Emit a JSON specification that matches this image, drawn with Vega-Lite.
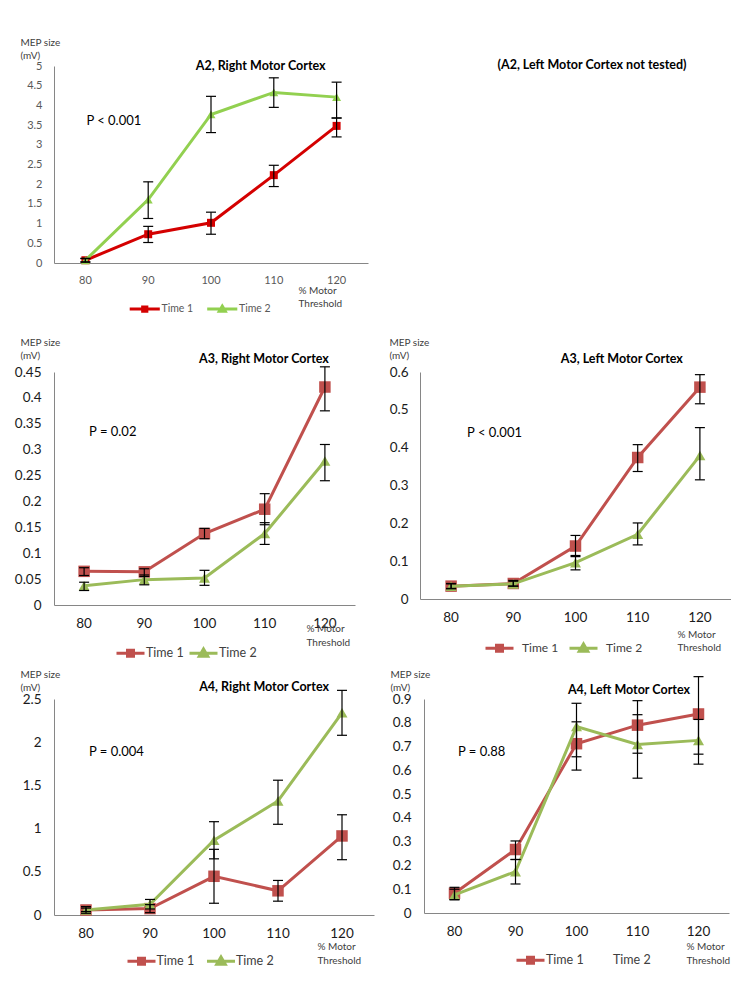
{
  "$schema": "https://vega.github.io/schema/vega-lite/v6.json",
  "padding": {"left": 14, "top": 37, "right": 0, "bottom": 10},
  "background": "white",
  "data": {"values": [
    {"p":"A2R","s":"Time 1","x":"80","m":0.07,"lo":0.02,"hi":0.12},
    {"p":"A2R","s":"Time 1","x":"90","m":0.73,"lo":0.52,"hi":0.93},
    {"p":"A2R","s":"Time 1","x":"100","m":1.02,"lo":0.73,"hi":1.29},
    {"p":"A2R","s":"Time 1","x":"110","m":2.23,"lo":1.94,"hi":2.48},
    {"p":"A2R","s":"Time 1","x":"120","m":3.48,"lo":3.2,"hi":3.68},
    {"p":"A2R","s":"Time 2","x":"80","m":0.07,"lo":0.03,"hi":0.11},
    {"p":"A2R","s":"Time 2","x":"90","m":1.61,"lo":1.13,"hi":2.06},
    {"p":"A2R","s":"Time 2","x":"100","m":3.77,"lo":3.31,"hi":4.23},
    {"p":"A2R","s":"Time 2","x":"110","m":4.33,"lo":3.95,"hi":4.7},
    {"p":"A2R","s":"Time 2","x":"120","m":4.21,"lo":3.68,"hi":4.59},
    {"p":"A3R","s":"Time 1","x":"80","m":0.065,"lo":0.057,"hi":0.072},
    {"p":"A3R","s":"Time 1","x":"90","m":0.064,"lo":0.055,"hi":0.07},
    {"p":"A3R","s":"Time 1","x":"100","m":0.138,"lo":0.128,"hi":0.148},
    {"p":"A3R","s":"Time 1","x":"110","m":0.185,"lo":0.155,"hi":0.215},
    {"p":"A3R","s":"Time 1","x":"120","m":0.421,"lo":0.375,"hi":0.46},
    {"p":"A3R","s":"Time 2","x":"80","m":0.037,"lo":0.028,"hi":0.044},
    {"p":"A3R","s":"Time 2","x":"90","m":0.049,"lo":0.039,"hi":0.058},
    {"p":"A3R","s":"Time 2","x":"100","m":0.052,"lo":0.038,"hi":0.067},
    {"p":"A3R","s":"Time 2","x":"110","m":0.138,"lo":0.117,"hi":0.159},
    {"p":"A3R","s":"Time 2","x":"120","m":0.278,"lo":0.24,"hi":0.31},
    {"p":"A3L","s":"Time 1","x":"80","m":0.034,"lo":0.027,"hi":0.041},
    {"p":"A3L","s":"Time 1","x":"90","m":0.041,"lo":0.034,"hi":0.049},
    {"p":"A3L","s":"Time 1","x":"100","m":0.14,"lo":0.112,"hi":0.168},
    {"p":"A3L","s":"Time 1","x":"110","m":0.374,"lo":0.337,"hi":0.408},
    {"p":"A3L","s":"Time 1","x":"120","m":0.56,"lo":0.516,"hi":0.593},
    {"p":"A3L","s":"Time 2","x":"80","m":0.034,"lo":0.028,"hi":0.04},
    {"p":"A3L","s":"Time 2","x":"90","m":0.04,"lo":0.034,"hi":0.047},
    {"p":"A3L","s":"Time 2","x":"100","m":0.096,"lo":0.077,"hi":0.115},
    {"p":"A3L","s":"Time 2","x":"110","m":0.171,"lo":0.143,"hi":0.201},
    {"p":"A3L","s":"Time 2","x":"120","m":0.379,"lo":0.315,"hi":0.453},
    {"p":"A4R","s":"Time 1","x":"80","m":0.058,"lo":0.02,"hi":0.097},
    {"p":"A4R","s":"Time 1","x":"90","m":0.074,"lo":0.027,"hi":0.12},
    {"p":"A4R","s":"Time 1","x":"100","m":0.448,"lo":0.136,"hi":0.76},
    {"p":"A4R","s":"Time 1","x":"110","m":0.28,"lo":0.16,"hi":0.4},
    {"p":"A4R","s":"Time 1","x":"120","m":0.915,"lo":0.64,"hi":1.16},
    {"p":"A4R","s":"Time 2","x":"80","m":0.058,"lo":0.04,"hi":0.08},
    {"p":"A4R","s":"Time 2","x":"90","m":0.125,"lo":0.07,"hi":0.18},
    {"p":"A4R","s":"Time 2","x":"100","m":0.865,"lo":0.65,"hi":1.08},
    {"p":"A4R","s":"Time 2","x":"110","m":1.32,"lo":1.05,"hi":1.56},
    {"p":"A4R","s":"Time 2","x":"120","m":2.34,"lo":2.08,"hi":2.6},
    {"p":"A4L","s":"Time 1","x":"80","m":0.083,"lo":0.056,"hi":0.108},
    {"p":"A4L","s":"Time 1","x":"90","m":0.267,"lo":0.225,"hi":0.303},
    {"p":"A4L","s":"Time 1","x":"100","m":0.712,"lo":0.601,"hi":0.804},
    {"p":"A4L","s":"Time 1","x":"110","m":0.79,"lo":0.672,"hi":0.893},
    {"p":"A4L","s":"Time 1","x":"120","m":0.837,"lo":0.668,"hi":0.994},
    {"p":"A4L","s":"Time 2","x":"80","m":0.076,"lo":0.056,"hi":0.1},
    {"p":"A4L","s":"Time 2","x":"90","m":0.174,"lo":0.122,"hi":0.225},
    {"p":"A4L","s":"Time 2","x":"100","m":0.784,"lo":0.657,"hi":0.882},
    {"p":"A4L","s":"Time 2","x":"110","m":0.709,"lo":0.567,"hi":0.834},
    {"p":"A4L","s":"Time 2","x":"120","m":0.726,"lo":0.626,"hi":0.814}
  ]},
  "config": {
    "view": {"stroke": null},
    "font": "Lato",
    "axis": {"grid": false, "ticks": false, "domainColor": "#868686", "domainWidth": 1, "labelFont": "Lato", "titleFont": "Lato", "labelAngle": 0, "labelFlush": false, "labelOverlap": false},
    "legend": {"labelFont": "Lato", "symbolStrokeWidth": 3, "symbolOpacity": 1},
    "text": {"font": "Lato"}
  },
  "spacing": 6,
  "resolve": {"scale": {"x": "independent", "y": "independent", "color": "independent", "shape": "independent"}, "legend": {"color": "independent", "shape": "independent"}},
  "vconcat": [
    {
      "bounds": "flush",
      "spacing": 53,
      "resolve": {"scale": {"x": "independent", "y": "independent", "color": "independent", "shape": "independent"}, "legend": {"color": "independent", "shape": "independent"}},
      "hconcat": [
        {
          "width": 314, "height": 197,
          "transform": [{"filter": "datum.p === 'A2R'"}],
          "encoding": {
            "x": {"field": "x", "type": "ordinal", "sort": ["80","90","100","110","120"], "scale": {"paddingInner": 0, "paddingOuter": 0},
                  "axis": {"labelFontSize": 11, "labelColor": "#595959", "labelPadding": 11, "title": ["% Motor", "Threshold"], "titleX": 244, "titleY": 22, "titleAlign": "left", "titleAnchor": "start", "titleBaseline": "top", "titleFontSize": 10, "titleFontWeight": "normal", "titleColor": "#404040", "titleLineHeight": 13.5}},
            "y": {"field": "m", "type": "quantitative", "scale": {"domain": [0, 5], "nice": false, "zero": true},
                  "axis": {"values": [0,0.5,1,1.5,2,2.5,3,3.5,4,4.5,5], "format": "~g", "labelFontSize": 11, "labelColor": "#595959", "labelPadding": 12, "title": ["MEP size", "(mV)"], "titleAngle": 0, "titleX": -34, "titleY": -29, "titleAlign": "left", "titleAnchor": "start", "titleBaseline": "top", "titleFontSize": 10, "titleFontWeight": "normal", "titleColor": "#404040", "titleLineHeight": 13}}
          },
          "layer": [
            {"transform": [{"filter": "datum.x === '80'"}],
             "mark": {"type": "point", "filled": false, "opacity": 0},
             "encoding": {
               "color": {"field": "s", "type": "nominal", "scale": {"domain": ["Time 1", "Time 2"], "range": ["#D40000", "#92D050"]},
                 "legend": {"orient": "none", "legendX": 85.5, "legendY": 237.5, "direction": "horizontal", "title": null, "symbolSize": 49, "labelOffset": 11.5, "columnPadding": 7.5, "labelFontSize": 10.5, "labelColor": "#595959"}},
               "shape": {"field": "s", "type": "nominal", "scale": {"domain": ["Time 1", "Time 2"], "range": ["M-4.3,0H4.3M-0.6,-0.6H0.6V0.6H-0.6ZM-0.2,-0.2H0.2V0.2H-0.2Z", "M-4.3,0H4.3M0,-0.85L0.85,0.6H-0.85ZM0,-0.3L0.3,0.25H-0.3Z"]},
                 "legend": {"orient": "none", "legendX": 85.5, "legendY": 237.5, "direction": "horizontal", "title": null, "symbolSize": 49, "labelOffset": 11.5, "columnPadding": 7.5, "labelFontSize": 10.5, "labelColor": "#595959"}}
             }},
            {"transform": [{"filter": "datum.s === 'Time 1'"}], "mark": {"type": "line", "strokeWidth": 3, "color": "#D40000"}, "encoding": {}},
            {"transform": [{"filter": "datum.s === 'Time 1'"}], "mark": {"type": "point", "filled": true, "opacity": 1, "shape": "square", "size": 64, "color": "#D40000"}},
            {"transform": [{"filter": "datum.s === 'Time 2'"}], "mark": {"type": "line", "strokeWidth": 3, "color": "#92D050"}, "encoding": {}},
            {"transform": [{"filter": "datum.s === 'Time 2'"}], "mark": {"type": "point", "filled": true, "opacity": 1, "shape": "triangle-up", "size": 81, "color": "#92D050"}},
            {"mark": {"type": "rule", "color": "black", "strokeWidth": 1.2},
             "encoding": {"y": {"field": "lo", "type": "quantitative"}, "y2": {"field": "hi"}}},
            {"mark": {"type": "tick", "color": "black", "size": 10, "thickness": 1.2, "opacity": 1},
             "encoding": {"y": {"field": "lo", "type": "quantitative"}}},
            {"mark": {"type": "tick", "color": "black", "size": 10, "thickness": 1.2, "opacity": 1},
             "encoding": {"y": {"field": "hi", "type": "quantitative"}}},
            {"transform": [{"filter": "datum.x === '80' && datum.s === 'Time 1'"}],
             "mark": {"type": "text", "fontWeight": "bold", "fontSize": 12.5, "align": "right", "baseline": "middle", "dx": -11, "color": "black"},
             "encoding": {"x": {"datum": "120"}, "y": {"datum": 5, "type": "quantitative"}, "text": {"value": "A2, Right Motor Cortex"}}},
            {"transform": [{"filter": "datum.x === '80' && datum.s === 'Time 1'"}],
             "mark": {"type": "text", "fontSize": 13, "align": "left", "baseline": "middle", "dx": 1, "color": "black"},
             "encoding": {"x": {"datum": "80"}, "y": {"datum": 3.6, "type": "quantitative"}, "text": {"value": "P < 0.001"}}}
          ]
        },
        {
          "width": 300, "height": 265,
          "title": {"text": "(A2, Left Motor Cortex not tested)", "anchor": "middle", "frame": "group", "dx": 21, "dy": 14, "offset": 3, "baseline": "middle", "fontSize": 12.5, "fontWeight": "bold", "font": "Lato", "color": "black"},
          "transform": [{"filter": "datum.p === 'none'"}],
          "mark": {"type": "text"},
          "encoding": {"text": {"value": ""}}
        }
      ]
    },
    {
      "bounds": "flush",
      "spacing": 65,
      "resolve": {"scale": {"x": "independent", "y": "independent", "color": "independent", "shape": "independent"}, "legend": {"color": "independent", "shape": "independent"}},
      "hconcat": [
        {
          "width": 301, "height": 233,
          "transform": [{"filter": "datum.p === 'A3R'"}],
          "encoding": {
            "x": {"field": "x", "type": "ordinal", "sort": ["80","90","100","110","120"], "scale": {"paddingInner": 0, "paddingOuter": 0},
                  "axis": {"labelFontSize": 13.5, "labelColor": "#1a1a1a", "labelPadding": 11, "title": ["% Motor", "Threshold"], "titleX": 252, "titleY": 18, "titleAlign": "left", "titleAnchor": "start", "titleBaseline": "top", "titleFontSize": 10, "titleFontWeight": "normal", "titleColor": "#404040", "titleLineHeight": 14}},
            "y": {"field": "m", "type": "quantitative", "scale": {"domain": [0, 0.45], "nice": false, "zero": true},
                  "axis": {"values": [0,0.05,0.1,0.15,0.2,0.25,0.3,0.35,0.4,0.45], "format": "~g", "labelFontSize": 13.5, "labelColor": "#1a1a1a", "labelPadding": 13, "title": ["MEP size", "(mV)"], "titleAngle": 0, "titleX": -34, "titleY": -35, "titleAlign": "left", "titleAnchor": "start", "titleBaseline": "top", "titleFontSize": 10, "titleFontWeight": "normal", "titleColor": "#404040", "titleLineHeight": 13}}
          },
          "layer": [
            {"transform": [{"filter": "datum.x === '80'"}],
             "mark": {"type": "point", "filled": false, "opacity": 0},
             "encoding": {
               "color": {"field": "s", "type": "nominal", "scale": {"domain": ["Time 1", "Time 2"], "range": ["#C0504D", "#9BBB59"]},
                 "legend": {"orient": "none", "legendX": 70, "legendY": 274.5, "direction": "horizontal", "title": null, "symbolSize": 100, "labelOffset": 9, "columnPadding": -1, "labelFontSize": 12.5, "labelColor": "#404040"}},
               "shape": {"field": "s", "type": "nominal", "scale": {"domain": ["Time 1", "Time 2"], "range": ["M-2.8,0H2.8M-0.6,-0.6H0.6V0.6H-0.6ZM-0.2,-0.2H0.2V0.2H-0.2Z", "M-2.8,0H2.8M0,-0.85L0.85,0.6H-0.85ZM0,-0.3L0.3,0.25H-0.3Z"]},
                 "legend": {"orient": "none", "legendX": 70, "legendY": 274.5, "direction": "horizontal", "title": null, "symbolSize": 100, "labelOffset": 9, "columnPadding": -1, "labelFontSize": 12.5, "labelColor": "#404040"}}
             }},
            {"transform": [{"filter": "datum.s === 'Time 1'"}], "mark": {"type": "line", "strokeWidth": 3, "color": "#C0504D"}, "encoding": {}},
            {"transform": [{"filter": "datum.s === 'Time 1'"}], "mark": {"type": "point", "filled": true, "opacity": 1, "shape": "square", "size": 132, "color": "#C0504D"}},
            {"transform": [{"filter": "datum.s === 'Time 2'"}], "mark": {"type": "line", "strokeWidth": 3, "color": "#9BBB59"}, "encoding": {}},
            {"transform": [{"filter": "datum.s === 'Time 2'"}], "mark": {"type": "point", "filled": true, "opacity": 1, "shape": "triangle-up", "size": 121, "color": "#9BBB59"}},
            {"mark": {"type": "rule", "color": "black", "strokeWidth": 1.2},
             "encoding": {"y": {"field": "lo", "type": "quantitative"}, "y2": {"field": "hi"}}},
            {"mark": {"type": "tick", "color": "black", "size": 10, "thickness": 1.2, "opacity": 1},
             "encoding": {"y": {"field": "lo", "type": "quantitative"}}},
            {"mark": {"type": "tick", "color": "black", "size": 10, "thickness": 1.2, "opacity": 1},
             "encoding": {"y": {"field": "hi", "type": "quantitative"}}},
            {"transform": [{"filter": "datum.x === '80' && datum.s === 'Time 1'"}],
             "mark": {"type": "text", "fontWeight": "bold", "fontSize": 12.5, "align": "right", "baseline": "middle", "dx": 4, "dy": -13, "color": "black"},
             "encoding": {"x": {"datum": "120"}, "y": {"datum": 0.45, "type": "quantitative"}, "text": {"value": "A3, Right Motor Cortex"}}},
            {"transform": [{"filter": "datum.x === '80' && datum.s === 'Time 1'"}],
             "mark": {"type": "text", "fontSize": 13, "align": "left", "baseline": "middle", "dx": 5, "color": "black"},
             "encoding": {"x": {"datum": "80"}, "y": {"datum": 0.334, "type": "quantitative"}, "text": {"value": "P = 0.02"}}}
          ]
        },
        {
          "width": 311, "height": 227,
          "transform": [{"filter": "datum.p === 'A3L'"}],
          "encoding": {
            "x": {"field": "x", "type": "ordinal", "sort": ["80","90","100","110","120"], "scale": {"paddingInner": 0, "paddingOuter": 0},
                  "axis": {"labelFontSize": 13.5, "labelColor": "#1a1a1a", "labelPadding": 11, "title": ["% Motor", "Threshold"], "titleX": 257, "titleY": 30, "titleAlign": "left", "titleAnchor": "start", "titleBaseline": "top", "titleFontSize": 10, "titleFontWeight": "normal", "titleColor": "#404040", "titleLineHeight": 13}},
            "y": {"field": "m", "type": "quantitative", "scale": {"domain": [0, 0.6], "nice": false, "zero": true},
                  "axis": {"values": [0,0.1,0.2,0.3,0.4,0.5,0.6], "format": "~g", "labelFontSize": 13.5, "labelColor": "#1a1a1a", "labelPadding": 12, "title": ["MEP size", "(mV)"], "titleAngle": 0, "titleX": -31, "titleY": -35, "titleAlign": "left", "titleAnchor": "start", "titleBaseline": "top", "titleFontSize": 10, "titleFontWeight": "normal", "titleColor": "#404040", "titleLineHeight": 13}}
          },
          "layer": [
            {"transform": [{"filter": "datum.x === '80'"}],
             "mark": {"type": "point", "filled": false, "opacity": 0},
             "encoding": {
               "color": {"field": "s", "type": "nominal", "scale": {"domain": ["Time 1", "Time 2"], "range": ["#C0504D", "#9BBB59"]},
                 "legend": {"orient": "none", "legendX": 73, "legendY": 269.5, "direction": "horizontal", "title": null, "symbolSize": 100, "labelOffset": 16, "columnPadding": 4, "labelFontSize": 12, "labelColor": "#404040"}},
               "shape": {"field": "s", "type": "nominal", "scale": {"domain": ["Time 1", "Time 2"], "range": ["M-2.8,0H2.8M-0.6,-0.6H0.6V0.6H-0.6ZM-0.2,-0.2H0.2V0.2H-0.2Z", "M-2.8,0H2.8M0,-0.85L0.85,0.6H-0.85ZM0,-0.3L0.3,0.25H-0.3Z"]},
                 "legend": {"orient": "none", "legendX": 73, "legendY": 269.5, "direction": "horizontal", "title": null, "symbolSize": 100, "labelOffset": 16, "columnPadding": 4, "labelFontSize": 12, "labelColor": "#404040"}}
             }},
            {"transform": [{"filter": "datum.s === 'Time 1'"}], "mark": {"type": "line", "strokeWidth": 3, "color": "#C0504D"}, "encoding": {}},
            {"transform": [{"filter": "datum.s === 'Time 1'"}], "mark": {"type": "point", "filled": true, "opacity": 1, "shape": "square", "size": 132, "color": "#C0504D"}},
            {"transform": [{"filter": "datum.s === 'Time 2'"}], "mark": {"type": "line", "strokeWidth": 3, "color": "#9BBB59"}, "encoding": {}},
            {"transform": [{"filter": "datum.s === 'Time 2'"}], "mark": {"type": "point", "filled": true, "opacity": 1, "shape": "triangle-up", "size": 121, "color": "#9BBB59"}},
            {"mark": {"type": "rule", "color": "black", "strokeWidth": 1.2},
             "encoding": {"y": {"field": "lo", "type": "quantitative"}, "y2": {"field": "hi"}}},
            {"mark": {"type": "tick", "color": "black", "size": 10, "thickness": 1.2, "opacity": 1},
             "encoding": {"y": {"field": "lo", "type": "quantitative"}}},
            {"mark": {"type": "tick", "color": "black", "size": 10, "thickness": 1.2, "opacity": 1},
             "encoding": {"y": {"field": "hi", "type": "quantitative"}}},
            {"transform": [{"filter": "datum.x === '80' && datum.s === 'Time 1'"}],
             "mark": {"type": "text", "fontWeight": "bold", "fontSize": 12.5, "align": "right", "baseline": "middle", "dx": -17, "dy": -13, "color": "black"},
             "encoding": {"x": {"datum": "120"}, "y": {"datum": 0.6, "type": "quantitative"}, "text": {"value": "A3, Left Motor Cortex"}}},
            {"transform": [{"filter": "datum.x === '80' && datum.s === 'Time 1'"}],
             "mark": {"type": "text", "fontSize": 13, "align": "left", "baseline": "middle", "dx": 16, "color": "black"},
             "encoding": {"x": {"datum": "80"}, "y": {"datum": 0.439, "type": "quantitative"}, "text": {"value": "P < 0.001"}}}
          ]
        }
      ]
    },
    {
      "bounds": "flush",
      "spacing": 50,
      "resolve": {"scale": {"x": "independent", "y": "independent", "color": "independent", "shape": "independent"}, "legend": {"color": "independent", "shape": "independent"}},
      "hconcat": [
        {
          "width": 320, "height": 216,
          "transform": [{"filter": "datum.p === 'A4R'"}],
          "encoding": {
            "x": {"field": "x", "type": "ordinal", "sort": ["80","90","100","110","120"], "scale": {"paddingInner": 0, "paddingOuter": 0},
                  "axis": {"labelFontSize": 13.5, "labelColor": "#1a1a1a", "labelPadding": 11, "title": ["% Motor", "Threshold"], "titleX": 263, "titleY": 26, "titleAlign": "left", "titleAnchor": "start", "titleBaseline": "top", "titleFontSize": 10, "titleFontWeight": "normal", "titleColor": "#404040", "titleLineHeight": 14}},
            "y": {"field": "m", "type": "quantitative", "scale": {"domain": [0, 2.5], "nice": false, "zero": true},
                  "axis": {"values": [0,0.5,1,1.5,2,2.5], "format": "~g", "labelFontSize": 13.5, "labelColor": "#1a1a1a", "labelPadding": 13, "title": ["MEP size", "(mV)"], "titleAngle": 0, "titleX": -34, "titleY": -30, "titleAlign": "left", "titleAnchor": "start", "titleBaseline": "top", "titleFontSize": 10, "titleFontWeight": "normal", "titleColor": "#404040", "titleLineHeight": 13}}
          },
          "layer": [
            {"transform": [{"filter": "datum.x === '80'"}],
             "mark": {"type": "point", "filled": false, "opacity": 0},
             "encoding": {
               "color": {"field": "s", "type": "nominal", "scale": {"domain": ["Time 1", "Time 2"], "range": ["#C0504D", "#9BBB59"]},
                 "legend": {"orient": "none", "legendX": 81, "legendY": 255.5, "direction": "horizontal", "title": null, "symbolSize": 100, "labelOffset": 8.5, "columnPadding": 5.5, "labelFontSize": 12.5, "labelColor": "#404040"}},
               "shape": {"field": "s", "type": "nominal", "scale": {"domain": ["Time 1", "Time 2"], "range": ["M-2.8,0H2.8M-0.6,-0.6H0.6V0.6H-0.6ZM-0.2,-0.2H0.2V0.2H-0.2Z", "M-2.8,0H2.8M0,-0.85L0.85,0.6H-0.85ZM0,-0.3L0.3,0.25H-0.3Z"]},
                 "legend": {"orient": "none", "legendX": 81, "legendY": 255.5, "direction": "horizontal", "title": null, "symbolSize": 100, "labelOffset": 8.5, "columnPadding": 5.5, "labelFontSize": 12.5, "labelColor": "#404040"}}
             }},
            {"transform": [{"filter": "datum.s === 'Time 1'"}], "mark": {"type": "line", "strokeWidth": 3, "color": "#C0504D"}, "encoding": {}},
            {"transform": [{"filter": "datum.s === 'Time 1'"}], "mark": {"type": "point", "filled": true, "opacity": 1, "shape": "square", "size": 132, "color": "#C0504D"}},
            {"transform": [{"filter": "datum.s === 'Time 2'"}], "mark": {"type": "line", "strokeWidth": 3, "color": "#9BBB59"}, "encoding": {}},
            {"transform": [{"filter": "datum.s === 'Time 2'"}], "mark": {"type": "point", "filled": true, "opacity": 1, "shape": "triangle-up", "size": 121, "color": "#9BBB59"}},
            {"mark": {"type": "rule", "color": "black", "strokeWidth": 1.2},
             "encoding": {"y": {"field": "lo", "type": "quantitative"}, "y2": {"field": "hi"}}},
            {"mark": {"type": "tick", "color": "black", "size": 10, "thickness": 1.2, "opacity": 1},
             "encoding": {"y": {"field": "lo", "type": "quantitative"}}},
            {"mark": {"type": "tick", "color": "black", "size": 10, "thickness": 1.2, "opacity": 1},
             "encoding": {"y": {"field": "hi", "type": "quantitative"}}},
            {"transform": [{"filter": "datum.x === '80' && datum.s === 'Time 1'"}],
             "mark": {"type": "text", "fontWeight": "bold", "fontSize": 12.5, "align": "right", "baseline": "middle", "dx": -13, "dy": -12, "color": "black"},
             "encoding": {"x": {"datum": "120"}, "y": {"datum": 2.5, "type": "quantitative"}, "text": {"value": "A4, Right Motor Cortex"}}},
            {"transform": [{"filter": "datum.x === '80' && datum.s === 'Time 1'"}],
             "mark": {"type": "text", "fontSize": 13, "align": "left", "baseline": "middle", "dx": 3, "color": "black"},
             "encoding": {"x": {"datum": "80"}, "y": {"datum": 1.887, "type": "quantitative"}, "text": {"value": "P = 0.004"}}}
          ]
        },
        {
          "width": 305, "height": 214,
          "transform": [{"filter": "datum.p === 'A4L'"}],
          "encoding": {
            "x": {"field": "x", "type": "ordinal", "sort": ["80","90","100","110","120"], "scale": {"paddingInner": 0, "paddingOuter": 0},
                  "axis": {"labelFontSize": 13.5, "labelColor": "#1a1a1a", "labelPadding": 11, "title": ["% Motor", "Threshold"], "titleX": 262, "titleY": 28, "titleAlign": "left", "titleAnchor": "start", "titleBaseline": "top", "titleFontSize": 10, "titleFontWeight": "normal", "titleColor": "#404040", "titleLineHeight": 14}},
            "y": {"field": "m", "type": "quantitative", "scale": {"domain": [0, 0.9], "nice": false, "zero": true},
                  "axis": {"values": [0,0.1,0.2,0.3,0.4,0.5,0.6,0.7,0.8,0.9], "format": "~g", "labelFontSize": 13.5, "labelColor": "#1a1a1a", "labelPadding": 13, "title": ["MEP size", "(mV)"], "titleAngle": 0, "titleX": -34, "titleY": -30, "titleAlign": "left", "titleAnchor": "start", "titleBaseline": "top", "titleFontSize": 10, "titleFontWeight": "normal", "titleColor": "#404040", "titleLineHeight": 13}}
          },
          "layer": [
            {"transform": [{"filter": "datum.x === '80'"}],
             "mark": {"type": "point", "filled": false, "opacity": 0},
             "encoding": {
               "color": {"field": "s", "type": "nominal", "scale": {"domain": ["Time 1", "Time 2"], "range": ["#C0504D", "transparent"]},
                 "legend": {"orient": "none", "legendX": 100, "legendY": 254.5, "direction": "horizontal", "title": null, "symbolSize": 100, "labelOffset": 9, "columnPadding": -7, "labelFontSize": 12.5, "labelColor": "#404040"}},
               "shape": {"field": "s", "type": "nominal", "scale": {"domain": ["Time 1", "Time 2"], "range": ["M-2.8,0H2.8M-0.6,-0.6H0.6V0.6H-0.6ZM-0.2,-0.2H0.2V0.2H-0.2Z", "M-2.8,0H2.8M0,-0.85L0.85,0.6H-0.85ZM0,-0.3L0.3,0.25H-0.3Z"]},
                 "legend": {"orient": "none", "legendX": 100, "legendY": 254.5, "direction": "horizontal", "title": null, "symbolSize": 100, "labelOffset": 9, "columnPadding": -7, "labelFontSize": 12.5, "labelColor": "#404040"}}
             }},
            {"transform": [{"filter": "datum.s === 'Time 1'"}], "mark": {"type": "line", "strokeWidth": 3, "color": "#C0504D"}, "encoding": {}},
            {"transform": [{"filter": "datum.s === 'Time 1'"}], "mark": {"type": "point", "filled": true, "opacity": 1, "shape": "square", "size": 132, "color": "#C0504D"}},
            {"transform": [{"filter": "datum.s === 'Time 2'"}], "mark": {"type": "line", "strokeWidth": 3, "color": "#9BBB59"}, "encoding": {}},
            {"transform": [{"filter": "datum.s === 'Time 2'"}], "mark": {"type": "point", "filled": true, "opacity": 1, "shape": "triangle-up", "size": 121, "color": "#9BBB59"}},
            {"mark": {"type": "rule", "color": "black", "strokeWidth": 1.2},
             "encoding": {"y": {"field": "lo", "type": "quantitative"}, "y2": {"field": "hi"}}},
            {"mark": {"type": "tick", "color": "black", "size": 10, "thickness": 1.2, "opacity": 1},
             "encoding": {"y": {"field": "lo", "type": "quantitative"}}},
            {"mark": {"type": "tick", "color": "black", "size": 10, "thickness": 1.2, "opacity": 1},
             "encoding": {"y": {"field": "hi", "type": "quantitative"}}},
            {"transform": [{"filter": "datum.x === '80' && datum.s === 'Time 1'"}],
             "mark": {"type": "text", "fontWeight": "bold", "fontSize": 12.5, "align": "right", "baseline": "middle", "dx": -8.5, "dy": -9, "color": "black"},
             "encoding": {"x": {"datum": "120"}, "y": {"datum": 0.9, "type": "quantitative"}, "text": {"value": "A4, Left Motor Cortex"}}},
            {"transform": [{"filter": "datum.x === '80' && datum.s === 'Time 1'"}],
             "mark": {"type": "text", "fontSize": 13, "align": "left", "baseline": "middle", "dx": 3.5, "color": "black"},
             "encoding": {"x": {"datum": "80"}, "y": {"datum": 0.677, "type": "quantitative"}, "text": {"value": "P = 0.88"}}}
          ]
        }
      ]
    }
  ]
}
